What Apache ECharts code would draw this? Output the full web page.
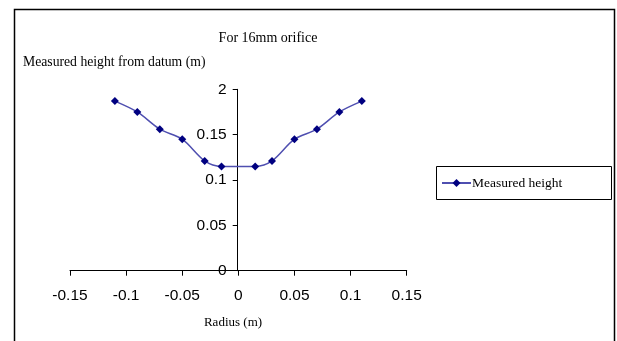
<!DOCTYPE html>
<html>
<head>
<meta charset="utf-8">
<script src="https://cdn.jsdelivr.net/npm/echarts@6/dist/echarts.min.js"></script>
<style>
html,body{margin:0;padding:0;background:#fff;}
#chart{width:617px;height:341px;}
</style>
</head>
<body>
<div id="chart"></div>
<script>
var radius = [-0.11, -0.09, -0.07, -0.05, -0.03, -0.015, 0.015, 0.03, 0.05, 0.07, 0.09, 0.11];
var measuredHeight = [0.187, 0.175, 0.156, 0.145, 0.121, 0.115, 0.115, 0.121, 0.145, 0.156, 0.175, 0.187];
var xTickLabels = ['-0.15', '-0.1', '-0.05', '0', '0.05', '0.1', '0.15'];
var yTickLabels = ['0', '0.05', '0.1', '0.15', '2'];
var seriesName = 'Measured height';
var chartTitle = 'For 16mm orifice';
var yAxisTitle = 'Measured height from datum (m)';
var xAxisTitle = 'Radius (m)';

var serif = '"Liberation Serif", "DejaVu Serif", serif';
var sans = '"Liberation Sans", Arial, sans-serif';

var chart = echarts.init(document.getElementById('chart'), null, {renderer: 'canvas'});
chart.setOption({
  animation: false,
  backgroundColor: '#ffffff',
  title: [
    {text: chartTitle, left: 268, top: 31, textAlign: 'center', padding: 0,
     textStyle: {fontFamily: serif, fontSize: 14, fontWeight: 'normal', color: '#000'}},
    {text: yAxisTitle, left: 23, top: 55, padding: 0,
     textStyle: {fontFamily: serif, fontSize: 13.7, fontWeight: 'normal', color: '#000'}},
    {text: xAxisTitle, left: 233, top: 316, textAlign: 'center', padding: 0,
     textStyle: {fontFamily: serif, fontSize: 13, fontWeight: 'normal', color: '#000'}}
  ],
  grid: {left: 70, right: 210.3, top: 89.3, bottom: 70.3, containLabel: false},
  legend: {
    data: [seriesName], left: 441, top: 176, padding: 0,
    itemWidth: 29, itemHeight: 10, itemGap: 4,
    textStyle: {fontFamily: serif, fontSize: 13.5, color: '#000', padding: [0,0,0,-4]}
  },
  xAxis: {
    type: 'value', min: -0.15, max: 0.15, interval: 0.05,
    splitLine: {show: false},
    axisLine: {lineStyle: {color: '#000', width: 1}},
    axisTick: {length: 5, lineStyle: {color: '#000'}},
    axisLabel: {color: '#000', fontFamily: sans, fontSize: 15.5, margin: 17,
      formatter: function (v, i) { return xTickLabels[i]; }}
  },
  yAxis: {
    type: 'value', min: 0, max: 0.2, interval: 0.05,
    position: 'left', offset: -167.7,
    splitLine: {show: false},
    axisLine: {show: true, onZero: false, lineStyle: {color: '#000', width: 1}},
    axisTick: {show: true, length: 5, lineStyle: {color: '#000'}},
    axisLabel: {color: '#000', fontFamily: sans, fontSize: 15.5, margin: 11,
      formatter: function (v, i) { return yTickLabels[i]; }}
  },
  series: [{
    name: seriesName, type: 'line', smooth: 0.3,
    data: radius.map(function (r, i) { return [r, measuredHeight[i]]; }),
    symbol: 'diamond', symbolSize: 8,
    lineStyle: {color: '#4f4fb0', width: 1.5},
    itemStyle: {color: '#000080'}
  }],
  graphic: [
    {type: 'rect', shape: {x: 14.5, y: 9.5, width: 600, height: 400},
     style: {fill: 'none', stroke: '#000', lineWidth: 1.5}, silent: true},
    {type: 'rect', shape: {x: 436.5, y: 166.5, width: 175, height: 33},
     style: {fill: 'none', stroke: '#000', lineWidth: 1}, silent: true}
  ]
});
</script>
</body>
</html>
